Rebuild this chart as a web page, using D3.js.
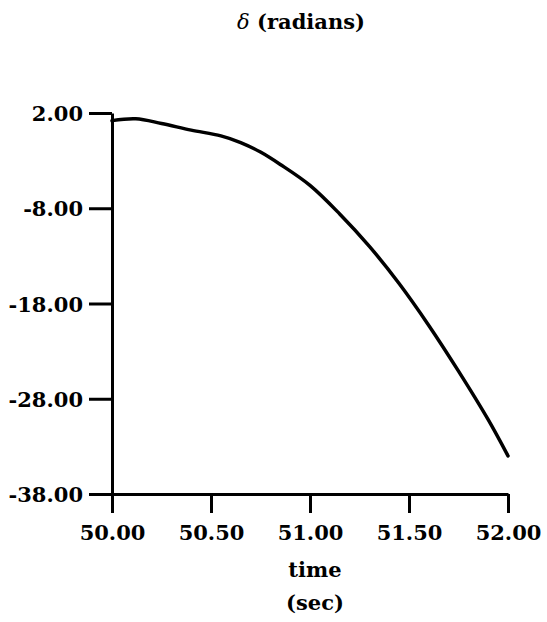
<!DOCTYPE html>
<html>
<head>
<meta charset="utf-8">
<script src="https://cdn.jsdelivr.net/npm/d3@7"></script>
<style>
  body { margin: 0; background: #fff; }
  .lbl { font-family: "DejaVu Serif", serif; font-weight: bold; font-size: 21px; fill: #000; }
</style>
</head>
<body>
<div id="chart"></div>
<script>
// data
var times = [50.00, 50.12, 50.25, 50.40, 50.55, 50.65, 50.75, 50.85, 51.00, 51.15, 51.30, 51.45, 51.60, 51.75, 51.90, 52.00];
var delta = [1.2, 1.4, 0.9, 0.2, -0.4, -1.1, -2.1, -3.4, -5.6, -8.6, -12.0, -15.9, -20.3, -25.1, -30.2, -34.0];
var xTicks = [50.00, 50.50, 51.00, 51.50, 52.00];
var yTicks = [2, -8, -18, -28, -38];

var svgWidth = 547;
var svgHeight = 622;

var svg = d3.select("#chart")
  .append("svg")
  .attr("width", svgWidth)
  .attr("height", svgHeight);

var xScale = d3.scaleLinear()
  .domain([50, 52])
  .range([112, 508]);

var yScale = d3.scaleLinear()
  .domain([-38, 2])
  .range([494, 113]);

// plain hyphen for negatives, like the original
var fmt = function(d) { return d3.format(".2f")(d).replace("\u2212", "-"); };

// x axis
var xAxis = svg.append("g")
  .attr("transform", "translate(0, 494)")
  .call(d3.axisBottom(xScale).tickValues(xTicks).tickSize(19).tickSizeOuter(0).tickPadding(12).tickFormat(fmt));

// y axis
var yAxis = svg.append("g")
  .attr("transform", "translate(112, 0)")
  .call(d3.axisLeft(yScale).tickValues(yTicks).tickSize(23).tickSizeOuter(0).tickPadding(6).tickFormat(fmt));

[xAxis, yAxis].forEach(function(ax) {
  ax.selectAll("path, line").attr("stroke", "#000").attr("stroke-width", 3);
  ax.selectAll("text").attr("class", "lbl").attr("font-family", null).attr("font-size", null);
});
xAxis.selectAll("text").attr("dy", "0.71em");
yAxis.selectAll("text").attr("dy", "0.36em");

// curve
var line = d3.line()
  .x(function(d, i) { return xScale(times[i]); })
  .y(function(d) { return yScale(d); })
  .curve(d3.curveCatmullRom);

svg.append("path")
  .datum(delta)
  .attr("d", line)
  .attr("fill", "none")
  .attr("stroke", "#000")
  .attr("stroke-width", 3.5)
  .attr("stroke-linecap", "round");

// title
var title = svg.append("text")
  .attr("class", "lbl")
  .attr("x", 301)
  .attr("y", 29)
  .attr("text-anchor", "middle");
title.append("tspan").attr("font-style", "italic").attr("font-weight", "normal").text("δ");
title.append("tspan").text(" (radians)");

// axis titles
svg.append("text")
  .attr("class", "lbl")
  .attr("x", 315)
  .attr("y", 577)
  .attr("text-anchor", "middle")
  .text("time");

svg.append("text")
  .attr("class", "lbl")
  .attr("x", 315)
  .attr("y", 610)
  .attr("text-anchor", "middle")
  .text("(sec)");
</script>
</body>
</html>
